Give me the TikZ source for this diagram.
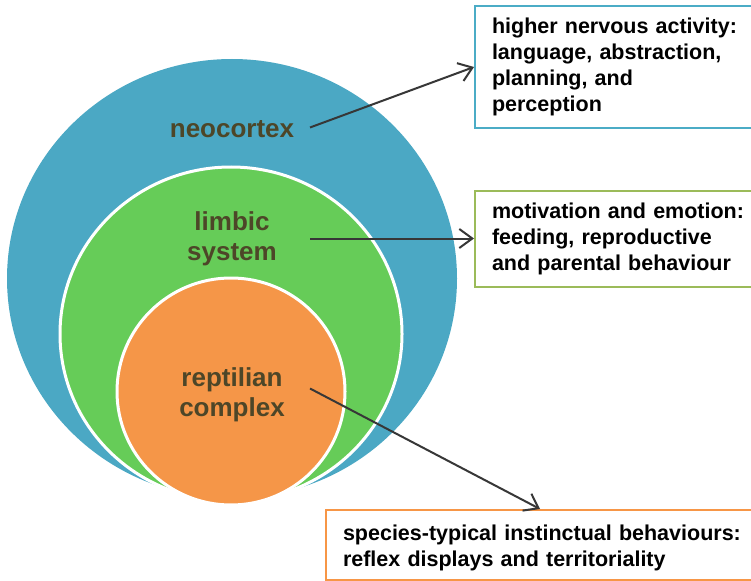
\documentclass[tikz,border=0pt]{standalone}
\usepackage{fontspec}
\setmainfont{Liberation Sans}
\usetikzlibrary{arrows.meta}
\definecolor{neoblue}{RGB}{75,168,196}
\definecolor{limgreen}{RGB}{102,204,88}
\definecolor{repor}{RGB}{245,150,72}
\definecolor{labtxt}{RGB}{77,70,40}
\definecolor{boxblue}{RGB}{75,172,198}
\definecolor{boxgreen}{RGB}{155,187,89}
\definecolor{boxor}{RGB}{247,150,70}
\definecolor{arrowgray}{RGB}{55,55,55}
\begin{document}
\begin{tikzpicture}[x=1pt,y=-1pt,
  lab/.style={text=labtxt, font=\fontsize{26pt}{30pt}\selectfont\bfseries, align=center, inner sep=0pt},
  infobox/.style={draw, line width=2pt, fill=white, anchor=north west, align=left, text width=#1, inner xsep=17pt, inner ysep=0pt, font=\fontsize{21.5pt}{25.8pt}\selectfont\bfseries, text=black},
  link/.style={draw=arrowgray, line width=2pt, -{Straight Barb[length=13pt,width=19pt]}}
]
\clip (0,0) rectangle (751,580);
\fill[white] (0,0) rectangle (751,580);
% nested layers
\fill[neoblue] (232,278.5) ellipse [x radius=225pt, y radius=219.5pt];
\filldraw[fill=limgreen, draw=white, line width=3pt] (231,334) ellipse [x radius=171pt, y radius=167pt];
\filldraw[fill=repor, draw=white, line width=3pt] (231,391.5) ellipse [x radius=114pt, y radius=113.5pt];
% labels
\node[lab] (neo) at (232,129.5) {neocortex};
\node[lab] (lim) at (232,239) {limbic\\system};
\node[lab] (rep) at (232,395) {reptilian\\complex};
% boxes
\node[infobox=300pt, draw=boxblue, minimum height=122pt] (box1) at (474,5) {higher nervous activity:\\language, abstraction,\\planning, and\\perception\rule[-3pt]{0pt}{1pt}};
\node[infobox=300pt, draw=boxgreen, minimum height=96pt] (box2) at (474,190) {motivation and emotion:\\feeding, reproductive\\and parental behaviour};
\node[infobox=440pt, draw=boxor, minimum height=70pt] (box3) at (325,509) {\rule{0pt}{21pt}species-typical instinctual behaviours:\\reflex displays and territoriality};
% connectors
\coordinate (s1) at (310,127.5);
\coordinate (s2) at (310,238.5);
\coordinate (s3) at (310,388.5);
\draw[link] (s1) -- (box1.west);
\draw[link] (s2) -- (s2 -| box2.west);
\draw[link] (s3) -- ([xshift=215pt]box3.north west);
\end{tikzpicture}
\end{document}
